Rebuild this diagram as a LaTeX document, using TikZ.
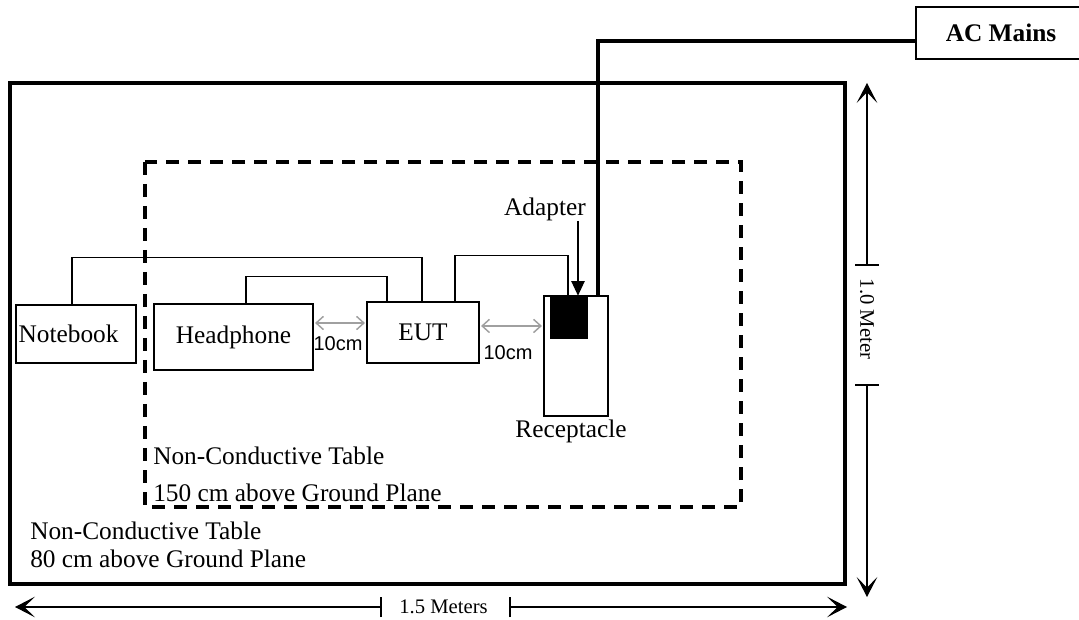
\documentclass[tikz,border=0pt]{standalone}
\usepackage{fontspec}
\setmainfont{Liberation Serif}
\setsansfont{Liberation Sans}
\usetikzlibrary{arrows.meta,calc}
\definecolor{arrgray}{RGB}{160,160,160}
\begin{document}
\begin{tikzpicture}[x=0.75pt,y=-0.75pt,
  thinbox/.style={draw, line width=1.1pt, rectangle, inner sep=0pt, font=\fontsize{19}{22}\selectfont},
  cable/.style={line width=1pt},
  mains/.style={line width=2.5pt},
  dimline/.style={line width=1pt, -{Stealth[length=15pt,width=15.5pt,inset=8pt]}},
  dimtick/.style={line width=1pt},
  gap/.style={draw=arrgray, line width=1.1pt, {Straight Barb[length=5.5pt,width=10pt]}-{Straight Barb[length=5.5pt,width=10pt]}, shorten >=1pt, shorten <=1pt},
  gaplabel/.style={font=\sffamily\fontsize{15}{18}\selectfont, inner sep=0pt},
  lbl/.style={inner sep=0pt, font=\fontsize{19}{22}\selectfont},
  dimlabel/.style={inner sep=0pt, font=\fontsize{15.5}{18}\selectfont},
  tablebox/.style={line width=2.5pt},
  innertable/.style={line width=2.5pt, dash pattern=on 9.75pt off 6.75pt}
]
\useasboundingbox (0,0) rectangle (1079,620);
\clip (0,0) rectangle (1079,620);

% tables
\draw[tablebox] (10,83) rectangle (845,584);
\draw[innertable] (145,162) rectangle (741,507);

% boxes
\node[thinbox, minimum width=90pt, minimum height=43.5pt, text width=86pt, align=left, inner xsep=1.5pt] (nb) at (76,334) {Notebook};
\node[thinbox, minimum width=119.25pt, minimum height=49.5pt] (hp) at (233.5,337) {Headphone};
\node[thinbox, minimum width=84pt, minimum height=45.75pt] (eut) at (423,332.5) {EUT};
\node[thinbox, minimum width=48pt, minimum height=90pt] (rec) at (576,356) {};
\node[fill=black, minimum width=28.5pt, minimum height=32.25pt, inner sep=0pt] (adp) at (569,317.5) {};
\node[thinbox, font=\bfseries\fontsize{19}{22}\selectfont, minimum width=127.5pt, minimum height=39pt] (ac) at (1001,33) {AC Mains};

% labels
\node[lbl, anchor=base] (reclbl) at (571,437) {Receptacle};
\node[lbl, anchor=base] (adplbl) at (545,216) {Adapter};
\node[lbl, anchor=north west, align=left, font=\fontsize{19}{27.75}\selectfont] (t2) at (153,447) {Non-Conductive Table\\150 cm above Ground Plane};
\node[lbl, anchor=north west, align=left, font=\fontsize{19}{21}\selectfont] (t1) at (30,521.5) {Non-Conductive Table\\80 cm above Ground Plane};

% cables
\draw[cable] ([xshift=-3pt]nb.north) -- ++(0,-47) -| ([xshift=-0.75pt]eut.north);
\draw[cable] ([xshift=9.4pt]hp.north) -- ++(0,-26.5) -| ([xshift=-27pt]eut.north);
\draw[cable] ([xshift=24pt]eut.north) -- ++(0,-46) -| ([xshift=-6pt]rec.north);
\draw[mains] ([yshift=-6pt]ac.west) -| ([xshift=16.5pt]rec.north);

% adapter pointer
\coordinate (adpfrom) at (578,221);
\draw[cable, -{Triangle[length=11pt,width=10pt]}] (adpfrom) -- ([xshift=6.75pt]adp.north);

% gap arrows
\coordinate (g1a) at ([yshift=10.5pt]hp.east);
\draw[gap] (g1a) -- (g1a -| eut.west);
\node[gaplabel] (g1l) at (338,344) {10cm};
\coordinate (g2a) at ([yshift=4.9pt]eut.east);
\draw[gap] (g2a) -- (g2a -| rec.west);
\node[gaplabel] (g2l) at (508,353) {10cm};

% vertical dimension
\coordinate (vt) at (867,83);
\coordinate (vb) at (867,597);
\coordinate (vt1) at (867,265);
\coordinate (vb1) at (867,385);
\draw[dimline] (vt1) -- (vt);
\draw[dimline] (vb1) -- (vb);
\draw[dimtick] ([xshift=-9pt]vt1) -- ([xshift=9pt]vt1);
\draw[dimtick] ([xshift=-9pt]vb1) -- ([xshift=9pt]vb1);
\node[dimlabel, rotate=-90] (vlbl) at (867,319) {1.0 Meter};

% horizontal dimension
\coordinate (hl) at (15,607);
\coordinate (hr) at (847,607);
\coordinate (hl1) at (381,607);
\coordinate (hr1) at (510,607);
\draw[dimline] (hl1) -- (hl);
\draw[dimline] (hr1) -- (hr);
\draw[dimtick] ([yshift=-7.5pt]hl1) -- ([yshift=7.5pt]hl1);
\draw[dimtick] ([yshift=-7.5pt]hr1) -- ([yshift=7.5pt]hr1);
\node[dimlabel, anchor=base] (hlbl) at (443.5,613) {1.5 Meters};
\end{tikzpicture}
\end{document}
